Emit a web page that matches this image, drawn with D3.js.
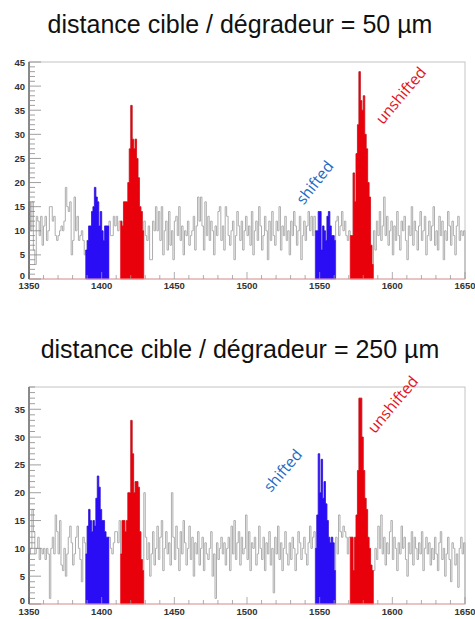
<!DOCTYPE html>
<html><head><meta charset="utf-8">
<script src="https://cdn.jsdelivr.net/npm/d3@7"></script>
<style>html,body{margin:0;padding:0;background:#fff;}svg{display:block;}</style>
</head><body>
<svg id="chart" width="475" height="619"></svg>
<script>
// ---- data ----
const binStart = 1350;
const binEnd = 1650;
const xTicks = [1350, 1400, 1450, 1500, 1550, 1600, 1650];
const titles = ["distance cible / dégradeur = 50 µm", "distance cible / dégradeur = 250 µm"];
const labels = ["shifted", "unshifted"];
// coloured regions [first bin, last bin + 1]
const shiftedRanges = [[1389, 1405], [1547, 1561]];
const unshiftedRanges = [[1413, 1429], [1571, 1587]];
const yMaxes = [45, 39];
const yLabelTops = [45, 35];

const counts50 = [
  16,10,16,6,3,13,12,9,13,7, 11,13,8,10,15,15,12,13,9,8, 9,10,11,10,12,19,15,14,16,5, 8,17,10,13,8,9,10,8,5,
  6,8,11,11,14,15,19,17,16,11,14,10,8,11,11,11,
  12,9,9,13,11,13,10,12,
  12,11,16,16,16,20,27,36,29,27,29,25,21,15,14,10,
  12,9,8,11,4,4,12,10,15,10, 14,8,15,5,10,12,6,14,7,10, 4,12,13,9,15,8,11,5,10,9,
  12,7,9,10,13,6,11,17,12,17, 11,6,16,9,13,8,12,10,5,11, 9,14,15,8,11,6,15,13,9,7,
  10,12,4,9,14,11,8,12,6,10, 13,9,11,7,14,5,10,12,8,15, 11,6,9,13,10,4,12,8,14,9,
  7,12,10,15,6,11,9,13,8,10, 5,12,9,14,11,7,10,13,4,9, 12,8,11,14,10,13,9,13,
  10,10,14,14,6,11,10,8,13,14,11,9,9,8,
  12,13,9,11,14,10,12,9,8,10,
  9,9,22,16,26,32,43,37,35,38,30,27,20,17,7,3,
  10,6,12,9,14,8,11,17,9,13, 7,10,12,5,11,8,14,9,6,12, 10,13,8,4,11,9,15,7,12,10,
  6,11,14,8,10,13,5,9,12,8, 11,15,7,10,6,13,9,12,4,10, 8,14,11,7,12,9,5,11,13,8, 10,9,10
];
const counts250 = [
  9,10,17,13,9,10,12,8,10,9, 10,8,10,9,1,10,12,9,16,13, 9,15,7,6,10,5,9,12,14,11, 7,9,12,14,10,8,4,12,11,
  9,14,17,15,13,15,14,19,23,21,17,15,15,13,12,12,
  12,10,9,11,13,13,11,15,
  9,15,15,13,15,20,20,33,27,20,22,22,21,13,8,6,
  20,12,8,11,5,9,13,7,10,14, 8,12,15,6,10,13,9,11,7,20, 12,8,14,10,6,13,9,15,11,7,
  10,14,8,12,5,11,9,13,7,10, 12,6,11,9,8,10,13,5,9,1, 11,8,10,12,9,11,7,10,12,6,
  14,9,15,8,11,13,7,12,9,10, 16,8,13,6,11,10,12,7,9,14, 10,8,12,6,11,9,13,7,10,2,
  12,9,14,8,11,6,10,13,9,7, 11,8,12,10,6,9,13,11,8,10, 12,9,7,11,14,10,12,13,
  10,16,27,20,26,19,22,18,15,12,11,12,11,6,
  12,9,16,13,12,14,13,12,9,12,
  12,12,6,12,16,24,37,37,30,24,19,17,12,10,7,6,
  6,10,8,14,10,16,9,12,7,11, 9,13,15,8,12,10,6,11,9,14, 10,12,8,5,11,9,13,7,12,10,
  8,11,9,13,6,10,12,9,11,7, 10,8,12,9,6,11,13,8,10,5, 9,12,8,4,11,10,7,9,3,10, 12,9,11
];
const allCounts = [counts50, counts250];

// ---- layout / style ----
const svg = d3.select("#chart");
svg.append("rect").attr("width",475).attr("height",619).attr("fill","#fff");
const panels = [
  {top: 62, bottom: 279, titleY: 33, labelY: 289,
   shiftedPos: [319, 186, -52], unshiftedPos: [405, 99, -50]},
  {top: 387, bottom: 604, titleY: 358, labelY: 615,
   shiftedPos: [287, 474, -50], unshiftedPos: [397, 408, -50]}
];
const left = 29, right = 465;
const blue = "#2a0cf5", red = "#e8000b";
const blueText = "#1f6bc4", redText = "#e4121a";
const axisFont = "'Liberation Sans', Arial, sans-serif";

panels.forEach((p, k) => {
  const counts = allCounts[k];
  const bins = counts.map((v, i) => ({x: binStart + i, v}));
  const x = d3.scaleLinear().domain([binStart, binEnd]).range([left, right]);
  const y = d3.scaleLinear().domain([0, yMaxes[k]]).range([p.bottom, p.top]);
  const g = svg.append("g");

  // title
  g.append("text").attr("x", 240).attr("y", p.titleY).attr("text-anchor","middle")
    .attr("font-family", axisFont).attr("font-size", 25)
    .attr("fill","#111").text(titles[k]);

  // frame
  g.append("rect").attr("x", left).attr("y", p.top).attr("width", right-left).attr("height", p.bottom-p.top)
    .attr("fill","none").attr("stroke","#c4c4c4").attr("stroke-width",1);

  // gray histogram outline
  const pts = [{x: binStart, v: 0}].concat(bins).concat([{x: binEnd, v: counts[counts.length-1]}, {x: binEnd, v: 0}]);
  const stepLine = d3.line().x(d => x(d.x)).y(d => y(d.v)).curve(d3.curveStepAfter);
  g.append("path").attr("d", stepLine(pts)).attr("fill","none").attr("stroke","#adadad").attr("stroke-width",1);

  // coloured regions
  const area = d3.area().x(d => x(d.x)).y0(y(0)).y1(d => y(d.v)).curve(d3.curveStepAfter);
  function drawRange(r, col) {
    const sub = bins.filter(b => b.x >= r[0] && b.x < r[1]);
    const ext = sub.concat([{x: r[1], v: sub[sub.length-1].v}]);
    g.append("path").attr("d", area(ext)).attr("fill", col).attr("stroke", col).attr("stroke-width", 0.6);
  }
  shiftedRanges.forEach(r => drawRange(r, blue));
  unshiftedRanges.forEach(r => drawRange(r, red));

  // x axis baseline
  g.append("line").attr("x1", left).attr("x2", right).attr("y1", y(0)).attr("y2", y(0))
    .attr("stroke","#f2a6a6").attr("stroke-width",1);
  // x ticks
  const xMinor = d3.range(binStart, binEnd + 1, 10);
  g.selectAll(null).data(xMinor).enter().append("line")
    .attr("x1", d => x(d)).attr("x2", d => x(d))
    .attr("y1", y(0)).attr("y2", d => y(0) - (d % 50 === 0 ? 7 : 4))
    .attr("stroke","#999").attr("stroke-width",0.8);
  g.selectAll(null).data(xTicks).enter().append("text")
    .attr("x", d => x(d)).attr("y", p.labelY).attr("text-anchor","middle")
    .attr("font-family", axisFont).attr("font-weight","bold")
    .attr("font-size", 9.5).attr("fill","#333").text(d => d);

  // y axis
  g.append("line").attr("x1", left).attr("x2", left).attr("y1", p.top).attr("y2", p.bottom)
    .attr("stroke","#333").attr("stroke-width",1);
  const yMinor = d3.range(0, yMaxes[k] + 0.001, 1);
  g.selectAll(null).data(yMinor).enter().append("line")
    .attr("x1", left).attr("x2", d => left + (d % 5 === 0 ? 12 : 6))
    .attr("y1", d => y(d)).attr("y2", d => y(d))
    .attr("stroke","#888").attr("stroke-width",0.8);
  const yLab = d3.range(0, yLabelTops[k] + 1, 5);
  g.selectAll(null).data(yLab).enter().append("text")
    .attr("x", left - 4).attr("y", d => y(d) + (d === 0 ? 0 : 3.5)).attr("text-anchor","end")
    .attr("font-family", axisFont).attr("font-weight","bold")
    .attr("font-size", 9.5).attr("fill","#333").text(d => d);

  // annotations
  [[labels[0], p.shiftedPos, blueText], [labels[1], p.unshiftedPos, redText]].forEach(([t, pos, c]) => {
    g.append("text").attr("transform", `translate(${pos[0]},${pos[1]}) rotate(${pos[2]})`)
      .attr("text-anchor","middle").attr("font-family","'Open Sans', 'Noto Sans', sans-serif")
      .attr("font-size", 15.5).attr("fill", c).text(t);
  });
});
</script>
</body></html>
